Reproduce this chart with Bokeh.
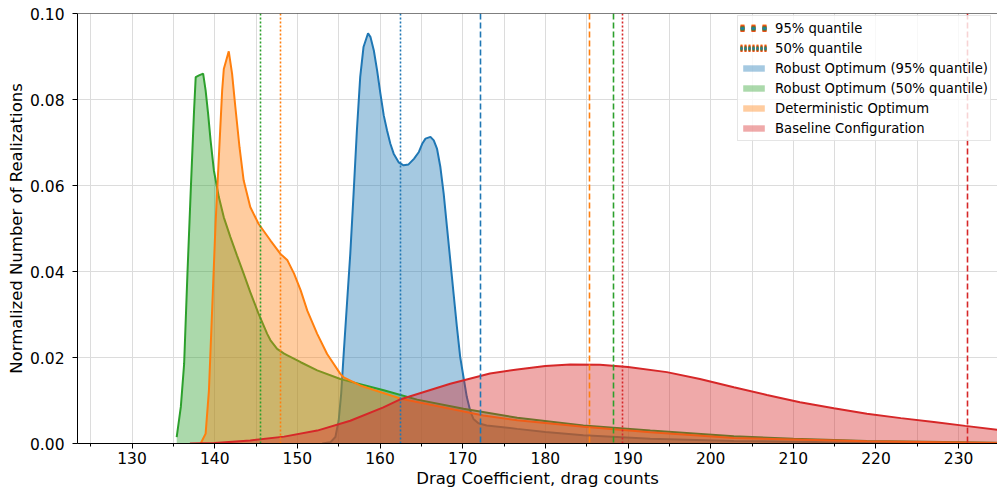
from bokeh.plotting import figure
from bokeh.models import (ColumnDataSource, Legend, LegendItem, Span,
                          Range1d, SingleIntervalTicker, FixedTicker, PrintfTickFormatter)
from bokeh.embed import file_html
from bokeh.resources import INLINE

# ---------------- data ----------------
x_range_limits = [123.4, 234.7]
y_range_limits = [0.0, 0.1]

robust95_x = [153.0, 154.0, 154.6, 155.0, 155.3, 155.6, 156.0, 156.4, 156.8, 157.2,
              157.6, 158.0, 158.55, 158.85, 159.25, 159.65, 160.05, 160.45, 160.85, 161.25,
              161.65, 162.25, 162.85, 163.45, 164.1, 164.7, 165.1, 165.5, 166.1, 166.5,
              166.9, 167.3, 167.7, 168.1, 168.5, 168.9, 169.3, 169.7, 170.1, 170.5,
              170.9, 171.3, 171.9, 172.9, 176.6, 180.0, 184.6, 192.7, 202.8, 218.9,
              234.7]
robust95_y = [0.0, 0.0003, 0.0015, 0.0054, 0.0116, 0.0208, 0.0325, 0.0441, 0.0581, 0.0728,
              0.0852, 0.0922, 0.0954, 0.0945, 0.0914, 0.0867, 0.0813, 0.0763, 0.0728, 0.0697,
              0.0674, 0.0654, 0.0647, 0.0649, 0.0662, 0.0678, 0.0697, 0.0709, 0.0713, 0.0705,
              0.0685, 0.0643, 0.0581, 0.0503, 0.0426, 0.0348, 0.0271, 0.0201, 0.0154, 0.0108,
              0.0077, 0.0057, 0.0047, 0.0042, 0.0034, 0.0027, 0.0019, 0.0011, 0.0006, 0.0002,
              0.0001]

robust50_x = [135.4, 135.9, 136.3, 136.7, 137.1, 137.5, 137.7, 138.1, 138.6, 138.9,
              139.2, 139.5, 139.9, 140.5, 141.1, 141.9, 142.7, 143.5, 144.3, 145.3,
              146.35, 146.75, 147.55, 148.4, 148.8, 150.4, 152.4, 155.2, 155.6, 160.45,
              164.5, 170.1, 176.6, 184.6, 192.7, 202.8, 210.0, 218.9, 226.0, 234.7]
robust50_y = [0.0015, 0.0085, 0.0185, 0.0395, 0.0588, 0.0774, 0.0852, 0.0856, 0.0860, 0.0821,
              0.0767, 0.0705, 0.0635, 0.0573, 0.0526, 0.0480, 0.0437, 0.0395, 0.0352, 0.0302,
              0.0255, 0.0240, 0.0220, 0.0209, 0.0205, 0.0189, 0.0170, 0.0150, 0.0148, 0.0124,
              0.0102, 0.0081, 0.0060, 0.0042, 0.0030, 0.0017, 0.0011, 0.0006, 0.0004, 0.0002]

determ_x = [138.3, 138.9, 139.3, 139.7, 140.1, 140.5, 140.9, 141.1, 141.7, 142.1,
            142.5, 143.0, 143.5, 144.3, 145.3, 146.75, 147.95, 148.8, 149.6, 150.4,
            151.2, 152.4, 153.6, 155.2, 155.6, 157.6, 162.55, 168.5, 172.5, 176.6,
            184.6, 192.7, 202.8, 218.9, 234.7]
determ_y = [0.0, 0.0023, 0.0123, 0.0317, 0.0511, 0.0666, 0.0821, 0.0871, 0.0912, 0.0860,
            0.0782, 0.0689, 0.0612, 0.0550, 0.0511, 0.0472, 0.0441, 0.0426, 0.0395, 0.0356,
            0.0309, 0.0255, 0.0208, 0.0162, 0.0154, 0.0135, 0.0104, 0.0081, 0.0065, 0.0054,
            0.0039, 0.0026, 0.0013, 0.0005, 0.0001]

baseline_x = [137.0, 140.0, 144.3, 148.4, 152.4, 156.4, 160.4, 162.5, 168.5, 173.3,
              176.6, 180.0, 183.0, 186.6, 190.0, 194.7, 198.7, 202.8, 206.8, 210.8,
              214.9, 218.9, 223.0, 227.0, 230.8, 234.7]
baseline_y = [0.0, 0.0001, 0.0007, 0.0016, 0.0030, 0.0053, 0.0084, 0.0103, 0.0139, 0.0163,
              0.0172, 0.0180, 0.0184, 0.0183, 0.0178, 0.0166, 0.0150, 0.0131, 0.0113, 0.0096,
              0.0082, 0.0069, 0.0059, 0.0050, 0.0041, 0.0032]

series_names = ["Robust Optimum (95% quantile)", "Robust Optimum (50% quantile)",
                "Deterministic Optimum", "Baseline Configuration"]
series_colors = ["#1f77b4", "#2ca02c", "#ff7f0e", "#d62728"]
series_x = [robust95_x, robust50_x, determ_x, baseline_x]
series_y = [robust95_y, robust50_y, determ_y, baseline_y]

# quantiles (same order as series)
q95 = [172.1, 188.3, 185.4, 231.1]
q50 = [162.5, 145.5, 148.0, 189.3]

x_tick_interval = 10
y_ticks = [0.0, 0.02, 0.04, 0.06, 0.08, 0.10]

# ---------------- figure ----------------
p = figure(width=997, height=491,
           x_range=Range1d(*x_range_limits), y_range=Range1d(*y_range_limits),
           output_backend="svg", toolbar_location=None,
           min_border_left=77, min_border_right=0, min_border_top=13,
           min_border_bottom=48)
p.outline_line_color = None
p.background_fill_color = "white"

FONT = "DejaVu Sans"

xt = SingleIntervalTicker(interval=x_tick_interval, num_minor_ticks=2)
p.xaxis.ticker = xt
p.xgrid.ticker = xt
p.yaxis.ticker = FixedTicker(ticks=y_ticks)
p.yaxis.formatter = PrintfTickFormatter(format="%.2f")

for ax in (p.xaxis[0], p.yaxis[0]):
    ax.axis_line_color = "black"
    ax.axis_line_width = 1
    ax.major_tick_line_color = "black"
    ax.major_tick_out = 5
    ax.major_tick_in = 0
    ax.major_label_text_font = FONT
    ax.major_label_text_font_size = "15.5px"
    ax.major_label_text_color = "black"
    ax.axis_label_text_font = FONT
    ax.axis_label_text_font_size = "16.5px"
    ax.axis_label_text_font_style = "normal"
    ax.axis_label_text_color = "black"

p.xaxis.axis_label = "Drag Coefficient, drag counts"
p.yaxis.axis_label = "Normalized Number of Realizations"
p.xaxis.minor_tick_line_color = "black"
p.xaxis.minor_tick_out = 3
p.xaxis.minor_tick_in = 0
p.yaxis.minor_tick_line_color = None
p.xaxis.major_label_standoff = 3
p.yaxis.major_label_standoff = 8
p.xaxis.axis_label_standoff = 2
p.yaxis.axis_label_standoff = 1

# top spine
p.add_layout(Span(location=y_range_limits[1], dimension="width",
                  line_color="black", line_width=1))

p.xgrid.grid_line_color = "#dcdcdc"
p.xgrid.minor_grid_line_color = "#dcdcdc"
p.ygrid.grid_line_color = "#dcdcdc"

fills = []
for xs, ys, c in zip(series_x, series_y, series_colors):
    src = ColumnDataSource(dict(x=xs, y=ys))
    f = p.varea(x="x", y1=0, y2="y", source=src, fill_color=c, fill_alpha=0.4)
    p.line(x="x", y="y", source=src, line_color=c, line_width=2)
    fills.append(f)

for q, c in zip(q95, series_colors):
    p.vspan(x=[q], line_color=c, line_width=1.6, line_dash="6 3")
for q, c in zip(q50, series_colors):
    p.vspan(x=[q], line_color=c, line_width=1.6, line_dash="2 2")

# legend handles for the quantile lines (stacked colours, nothing drawn in the plot)
nan = float("nan")
dash_handles = []
dot_handles = []
widths = [8, 6, 4, 2]
for c, w in zip(["#ff7f0e", "#d62728", "#2ca02c", "#1f77b4"], widths):
    dash_handles.append(p.line(x=[nan], y=[nan], line_color=c, line_width=w, line_dash="4 7"))
    dot_handles.append(p.line(x=[nan], y=[nan], line_color=c, line_width=w, line_dash="2 2"))

items = [LegendItem(label="95% quantile", renderers=dash_handles),
         LegendItem(label="50% quantile", renderers=dot_handles)]
for name, f in zip(series_names, fills):
    items.append(LegendItem(label=name, renderers=[f]))

legend = Legend(items=items, location=(660, 302))
legend.label_text_font = FONT
legend.label_text_font_size = "13.2px"
legend.label_text_color = "black"
legend.label_height = 20
legend.glyph_height = 8
legend.glyph_width = 27
legend.label_standoff = 8
legend.spacing = 0
legend.padding = 2
legend.margin = 0
legend.border_line_color = "#cccccc"
legend.background_fill_alpha = 0.8
p.add_layout(legend, "center")

open("out.html", "w").write(file_html(p, INLINE))
